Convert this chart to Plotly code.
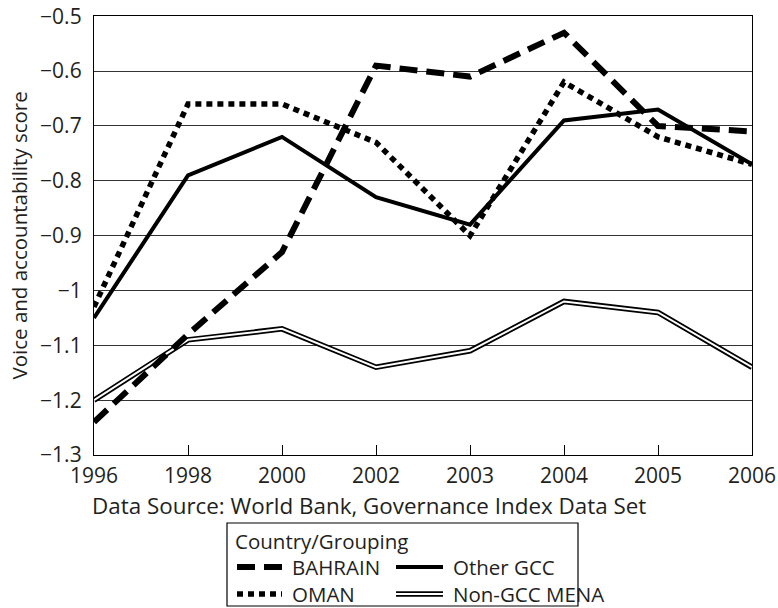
import plotly.graph_objects as go

# ---- data ----
years = ["1996", "1998", "2000", "2002", "2003", "2004", "2005", "2006"]
bahrain = [-1.24, -1.08, -0.93, -0.59, -0.61, -0.53, -0.70, -0.71]
oman = [-1.03, -0.66, -0.66, -0.73, -0.90, -0.62, -0.72, -0.77]
other_gcc = [-1.05, -0.79, -0.72, -0.83, -0.88, -0.69, -0.67, -0.77]
non_gcc_mena = [-1.20, -1.09, -1.07, -1.14, -1.11, -1.02, -1.04, -1.14]
y_tick_vals = [-1.3, -1.2, -1.1, -1.0, -0.9, -0.8, -0.7, -0.6, -0.5]
y_tick_text = ["\u22121.3", "\u22121.2", "\u22121.1", "\u22121", "\u22120.9",
               "\u22120.8", "\u22120.7", "\u22120.6", "\u22120.5"]
legend_title = "Country/Grouping"
x_title = "Data Source: World Bank, Governance Index Data Set"
y_title = "Voice and accountability score"

FONT = "Open Sans"
TXT = "#231f20"
W, H = 778, 608
L, R, T, B = 94, 752, 16, 455

def px(x):
    return (x - L) / (R - L)

def py(y):
    return (B - y) / (B - T)

BAH_DASH = "18px,9px"
OMAN_DASH = "6px,5px"

fig = go.Figure()
# Non-GCC MENA double line: thick black with thin white core
fig.add_trace(go.Scatter(x=years, y=non_gcc_mena, mode="lines", name="Non-GCC MENA",
                         line=dict(color="black", width=5.5), showlegend=False))
fig.add_trace(go.Scatter(x=years, y=non_gcc_mena, mode="lines", name="Non-GCC MENA core",
                         line=dict(color="white", width=2), showlegend=False, hoverinfo="skip"))
fig.add_trace(go.Scatter(x=years, y=other_gcc, mode="lines", name="Other GCC",
                         line=dict(color="black", width=4), showlegend=False))
fig.add_trace(go.Scatter(x=years, y=oman, mode="lines", name="OMAN",
                         line=dict(color="black", width=5.5, dash=OMAN_DASH), showlegend=False))
fig.add_trace(go.Scatter(x=years, y=bahrain, mode="lines", name="BAHRAIN",
                         line=dict(color="black", width=6, dash=BAH_DASH), showlegend=False))

shapes = []
annotations = []

# manual legend box
shapes.append(dict(type="rect", xref="paper", yref="paper",
                   x0=px(227), x1=px(578), y0=py(523), y1=py(606),
                   line=dict(color="black", width=1.2), fillcolor="white"))
annotations.append(dict(text=legend_title, xref="paper", yref="paper",
                        x=px(233), y=py(541), xanchor="left", yanchor="middle",
                        showarrow=False, font=dict(size=20.5, family=FONT, color=TXT)))

def leg_entry(x0, x1, yrow, label, dash=None, width=5, double=False):
    yy = py(yrow)
    if double:
        shapes.append(dict(type="line", xref="paper", yref="paper", x0=px(x0), x1=px(x1),
                           y0=yy, y1=yy, line=dict(color="black", width=5.5)))
        shapes.append(dict(type="line", xref="paper", yref="paper", x0=px(x0), x1=px(x1),
                           y0=yy, y1=yy, line=dict(color="white", width=2)))
    else:
        ln = dict(color="black", width=width)
        if dash:
            ln["dash"] = dash
        shapes.append(dict(type="line", xref="paper", yref="paper", x0=px(x0), x1=px(x1),
                           y0=yy, y1=yy, line=ln))
    annotations.append(dict(text=label, xref="paper", yref="paper",
                            x=px(x1 + 8), y=yy, xanchor="left", yanchor="middle",
                            showarrow=False, font=dict(size=20.5, family=FONT, color=TXT)))

leg_entry(237, 282, 567, "BAHRAIN", dash=BAH_DASH, width=6)
leg_entry(396, 443, 567, "Other GCC", width=4)
leg_entry(237, 282, 594, "OMAN", dash=OMAN_DASH, width=5.5)
leg_entry(396, 443, 594, "Non-GCC MENA", double=True)

# axis titles
annotations.append(dict(text=x_title, xref="paper", yref="paper",
                        x=px(90), y=py(505), xanchor="left", yanchor="middle",
                        showarrow=False, font=dict(size=22.4, family=FONT, color=TXT)))
annotations.append(dict(text=y_title, xref="paper", yref="paper", textangle=-90,
                        x=px(18), y=0.5, xanchor="center", yanchor="middle",
                        showarrow=False, font=dict(size=20.5, family=FONT, color=TXT)))

fig.update_layout(
    width=W, height=H,
    margin=dict(l=L, r=W - R, t=T, b=H - B, autoexpand=False),
    paper_bgcolor="white", plot_bgcolor="white",
    font=dict(family=FONT, size=21, color=TXT),
    showlegend=False,
    shapes=shapes, annotations=annotations,
    xaxis=dict(type="category", range=[0, len(years) - 1], showgrid=False,
               showline=True, linecolor="black", linewidth=1.3, mirror=True,
               ticks="inside", ticklen=10, tickcolor="black", tickwidth=1,
               ticklabelstandoff=2,
               tickfont=dict(size=21, family=FONT, color=TXT), zeroline=False,
               automargin=False),
    yaxis=dict(range=[-1.3, -0.4995], tickvals=y_tick_vals, ticktext=y_tick_text,
               showgrid=True, gridcolor="#333333", gridwidth=1,
               showline=True, linecolor="black", linewidth=1.3, mirror=True,
               ticks="", ticklabelstandoff=7, ticklabeloverflow="allow",
               tickfont=dict(size=21, family=FONT, color=TXT), zeroline=False,
               automargin=False),
)

fig.write_html("out.html", config={"displayModeBar": False},
               post_script="document.body.style.margin='0';")
